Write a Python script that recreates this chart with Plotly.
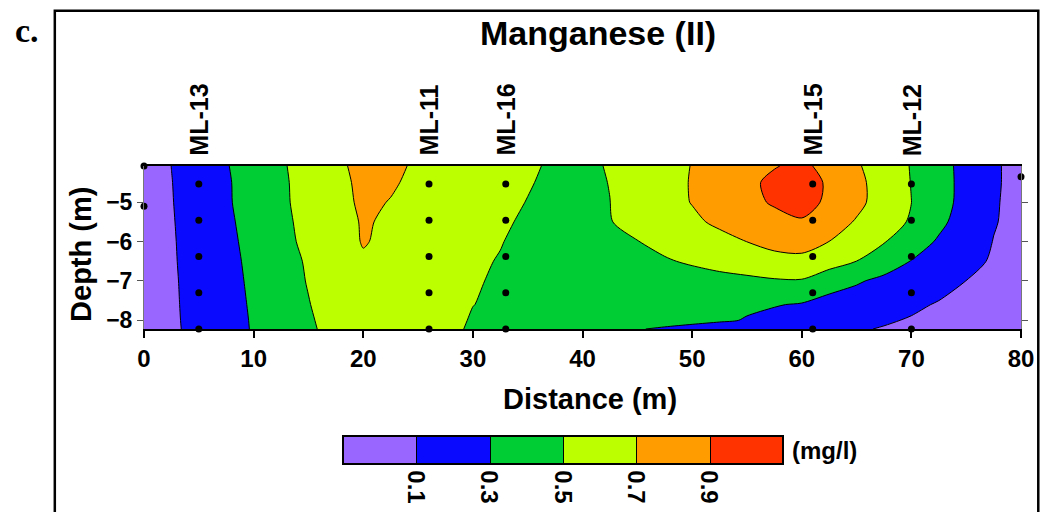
import plotly.graph_objects as go

# Manganese (II) section: grid of concentrations (mg/l) along the transect
grid_x = [0, 2.5, 5, 7.5, 10, 12.5, 15, 17.5, 20, 22.5, 25, 27.5, 30, 32.5, 35, 37.5,
          40, 42.5, 45, 47.5, 50, 52.5, 55, 57.5, 60, 62.5, 65, 67.5, 70, 72.5, 75, 77.5, 80]
grid_depth = [-4.08, -4.5, -5.0, -5.5, -6.0, -6.5, -7.0, -7.6, -8.0, -8.22]

mn_d408 = [0.00, 0.101, 0.19, 0.29, 0.38, 0.48, 0.57, 0.67, 0.74, 0.73, 0.68, 0.64, 0.60, 0.56, 0.52, 0.48,
           0.47, 0.51, 0.57, 0.64, 0.705, 0.76, 0.83, 0.89, 0.94, 0.84, 0.72, 0.61, 0.49, 0.37, 0.24, 0.12, 0.05]
mn_d450 = [0.00, 0.096, 0.19, 0.28, 0.38, 0.47, 0.57, 0.66, 0.73, 0.715, 0.67, 0.63, 0.59, 0.55, 0.51, 0.47,
           0.47, 0.503, 0.57, 0.64, 0.71, 0.79, 0.86, 0.94, 0.95, 0.885, 0.745, 0.62, 0.495, 0.37, 0.245, 0.12, 0.05]
mn_d500 = [0.00, 0.093, 0.18, 0.28, 0.37, 0.47, 0.56, 0.65, 0.725, 0.695, 0.655, 0.615, 0.575, 0.535, 0.496, 0.46,
           0.47, 0.499, 0.57, 0.64, 0.706, 0.78, 0.85, 0.92, 0.94, 0.88, 0.745, 0.62, 0.501, 0.37, 0.24, 0.115, 0.05]
mn_d550 = [0.00, 0.088, 0.18, 0.27, 0.36, 0.46, 0.55, 0.635, 0.713, 0.68, 0.64, 0.60, 0.56, 0.52, 0.48, 0.43,
           0.46, 0.494, 0.55, 0.61, 0.67, 0.73, 0.78, 0.84, 0.89, 0.785, 0.685, 0.585, 0.48, 0.34, 0.22, 0.11, 0.05]
mn_d600 = [0.00, 0.085, 0.17, 0.26, 0.35, 0.45, 0.54, 0.62, 0.71, 0.665, 0.625, 0.585, 0.545, 0.508, 0.45, 0.41,
           0.44, 0.47, 0.496, 0.545, 0.60, 0.65, 0.701, 0.745, 0.765, 0.699, 0.605, 0.51, 0.39, 0.28, 0.185, 0.096, 0.05]
mn_d650 = [0.00, 0.082, 0.167, 0.25, 0.34, 0.43, 0.52, 0.60, 0.68, 0.645, 0.605, 0.57, 0.53, 0.49, 0.43, 0.385,
           0.41, 0.435, 0.46, 0.485, 0.52, 0.56, 0.60, 0.65, 0.655, 0.57, 0.499, 0.40, 0.294, 0.22, 0.145, 0.083, 0.04]
mn_d700 = [0.00, 0.079, 0.16, 0.245, 0.33, 0.42, 0.51, 0.565, 0.61, 0.615, 0.585, 0.55, 0.515, 0.48, 0.44, 0.40,
           0.36, 0.38, 0.40, 0.415, 0.43, 0.445, 0.46, 0.48, 0.485, 0.40, 0.32, 0.256, 0.20, 0.15, 0.099, 0.064, 0.03]
mn_d760 = [0.00, 0.076, 0.156, 0.24, 0.32, 0.41, 0.493, 0.58, 0.60, 0.60, 0.585, 0.56, 0.502, 0.475, 0.45, 0.42,
           0.39, 0.37, 0.355, 0.345, 0.335, 0.325, 0.318, 0.309, 0.287, 0.22, 0.206, 0.165, 0.124, 0.09, 0.067, 0.044, 0.02]
mn_d800 = [0.00, 0.074, 0.152, 0.233, 0.315, 0.40, 0.48, 0.565, 0.58, 0.585, 0.575, 0.55, 0.487, 0.472, 0.455, 0.436,
           0.416, 0.396, 0.376, 0.356, 0.336, 0.316, 0.293, 0.257, 0.221, 0.186, 0.15, 0.114, 0.09, 0.072, 0.055, 0.037, 0.02]
mn_d822 = [0.00, 0.072, 0.15, 0.23, 0.313, 0.394, 0.474, 0.555, 0.57, 0.57, 0.56, 0.54, 0.48, 0.459, 0.429, 0.399,
           0.369, 0.339, 0.308, 0.282, 0.258, 0.234, 0.209, 0.185, 0.16, 0.136, 0.112, 0.092, 0.078, 0.063, 0.049, 0.034, 0.02]

# Multilevel sampler wells and their sampling ports
well_names = ["ML-13", "ML-11", "ML-16", "ML-15", "ML-12"]
well_x = [5, 26, 33, 61, 70]
port_depths = [-4.54, -5.46, -6.38, -7.30, -8.22]

# Additional sampling points at the section ends
edge_x = [0, 0, 80]
edge_depth = [-4.08, -5.1, -4.35]

levels = [0.1, 0.3, 0.5, 0.7, 0.9]
band_colors = ["#9966FF", "#0A0AFF", "#00CC33", "#BBFF00", "#FF9C00", "#FF3300"]

z_rows = [mn_d408, mn_d450, mn_d500, mn_d550, mn_d600, mn_d650, mn_d700, mn_d760, mn_d800, mn_d822]

# stepped colorscale: one flat colour per band (band centres fall at 0, 0.2, ... 1.0)
cuts = [0.0] + levels + [1.0]
colorscale = []
for i, c in enumerate(band_colors):
    colorscale.append([cuts[i], c])
    colorscale.append([cuts[i + 1], c])

FONT = "Liberation Sans, Arial, sans-serif"

fig = go.Figure()

fig.add_trace(go.Contour(
    x=grid_x, y=grid_depth, z=z_rows,
    colorscale=colorscale,
    zauto=False, zmin=-0.1, zmax=1.1,
    contours=dict(start=levels[0], end=levels[-1], size=0.2, coloring="fill", showlines=True),
    line=dict(color="black", width=1, smoothing=0.8),
    hoverinfo="skip",
    colorbar=dict(
        orientation="h",
        lenmode="pixels", len=440, thickness=28,
        x=0.4773, xanchor="center",
        y=-0.6585, yanchor="top", ypad=0, xpad=0,
        outlinecolor="black", outlinewidth=2,
        tickvals=levels, ticktext=[f"{v:.1f}" for v in levels],
        ticks="", tickangle=90,
        tickfont=dict(family=FONT, size=24, color="black", weight="bold"),
    ),
))

dots_x = [x for x in well_x for _ in port_depths] + edge_x
dots_y = [d for _ in well_x for d in port_depths] + edge_depth
fig.add_trace(go.Scatter(
    x=dots_x, y=dots_y, mode="markers",
    marker=dict(color="black", size=7),
    cliponaxis=False, hoverinfo="skip", showlegend=False,
))

annotations = []
for name, wx in zip(well_names, well_x):
    annotations.append(dict(
        x=wx, xref="x", y=1.05, yref="paper", text=name, textangle=-90,
        showarrow=False, xanchor="center", yanchor="bottom",
        font=dict(family=FONT, size=25, color="black", weight="bold"),
    ))

annotations += [
    dict(x=0.518, y=1.817, xref="paper", yref="paper", text="Manganese (II)", showarrow=False,
         xanchor="center", yanchor="middle",
         font=dict(family=FONT, size=34, color="black", weight="bold")),
    dict(x=-0.149, y=1.83, xref="paper", yref="paper", text="c.", showarrow=False,
         xanchor="left", yanchor="middle",
         font=dict(family="Liberation Serif, Times New Roman, serif", size=34, color="black", weight="bold")),
    dict(x=0.508, y=-0.43, xref="paper", yref="paper", text="Distance (m)", showarrow=False,
         xanchor="center", yanchor="middle",
         font=dict(family=FONT, size=29, color="black", weight="bold")),
    dict(x=-0.0725, y=0.457, xref="paper", yref="paper", text="Depth (m)", showarrow=False,
         textangle=-90, xanchor="center", yanchor="middle",
         font=dict(family=FONT, size=29, color="black", weight="bold")),
    dict(x=0.737, y=-0.743, xref="paper", yref="paper", text="(mg/l)", showarrow=False,
         xanchor="left", yanchor="middle",
         font=dict(family=FONT, size=24, color="black", weight="bold")),
]

fig.update_layout(
    width=1046, height=512,
    margin=dict(l=144, r=22, t=166, b=182),
    paper_bgcolor="white", plot_bgcolor="white",
    showlegend=False,
    annotations=annotations,
    shapes=[dict(type="rect", xref="paper", yref="paper",
                 x0=-0.1017, x1=1.0197, y0=-1.3, y1=1.953,
                 line=dict(color="black", width=2.5), fillcolor="rgba(0,0,0,0)")],
    xaxis=dict(range=[0, 80], tickvals=list(range(0, 81, 10)), ticks="outside", ticklen=7,
               tickwidth=2, tickcolor="black", showline=True, linecolor="black", linewidth=2,
               mirror=True, showgrid=False, zeroline=False,
               tickfont=dict(family=FONT, size=24, color="black", weight="bold")),
    yaxis=dict(range=[-8.22, -4.08], tickvals=[-5, -6, -7, -8], ticks="outside", ticklen=6,
               tickwidth=1, tickcolor="#555555", showline=True, linecolor="#777777", linewidth=1,
               mirror="ticks", showgrid=False, zeroline=False,
               tickfont=dict(family=FONT, size=23, color="black", weight="bold")),
)

fig.write_html("out.html")
